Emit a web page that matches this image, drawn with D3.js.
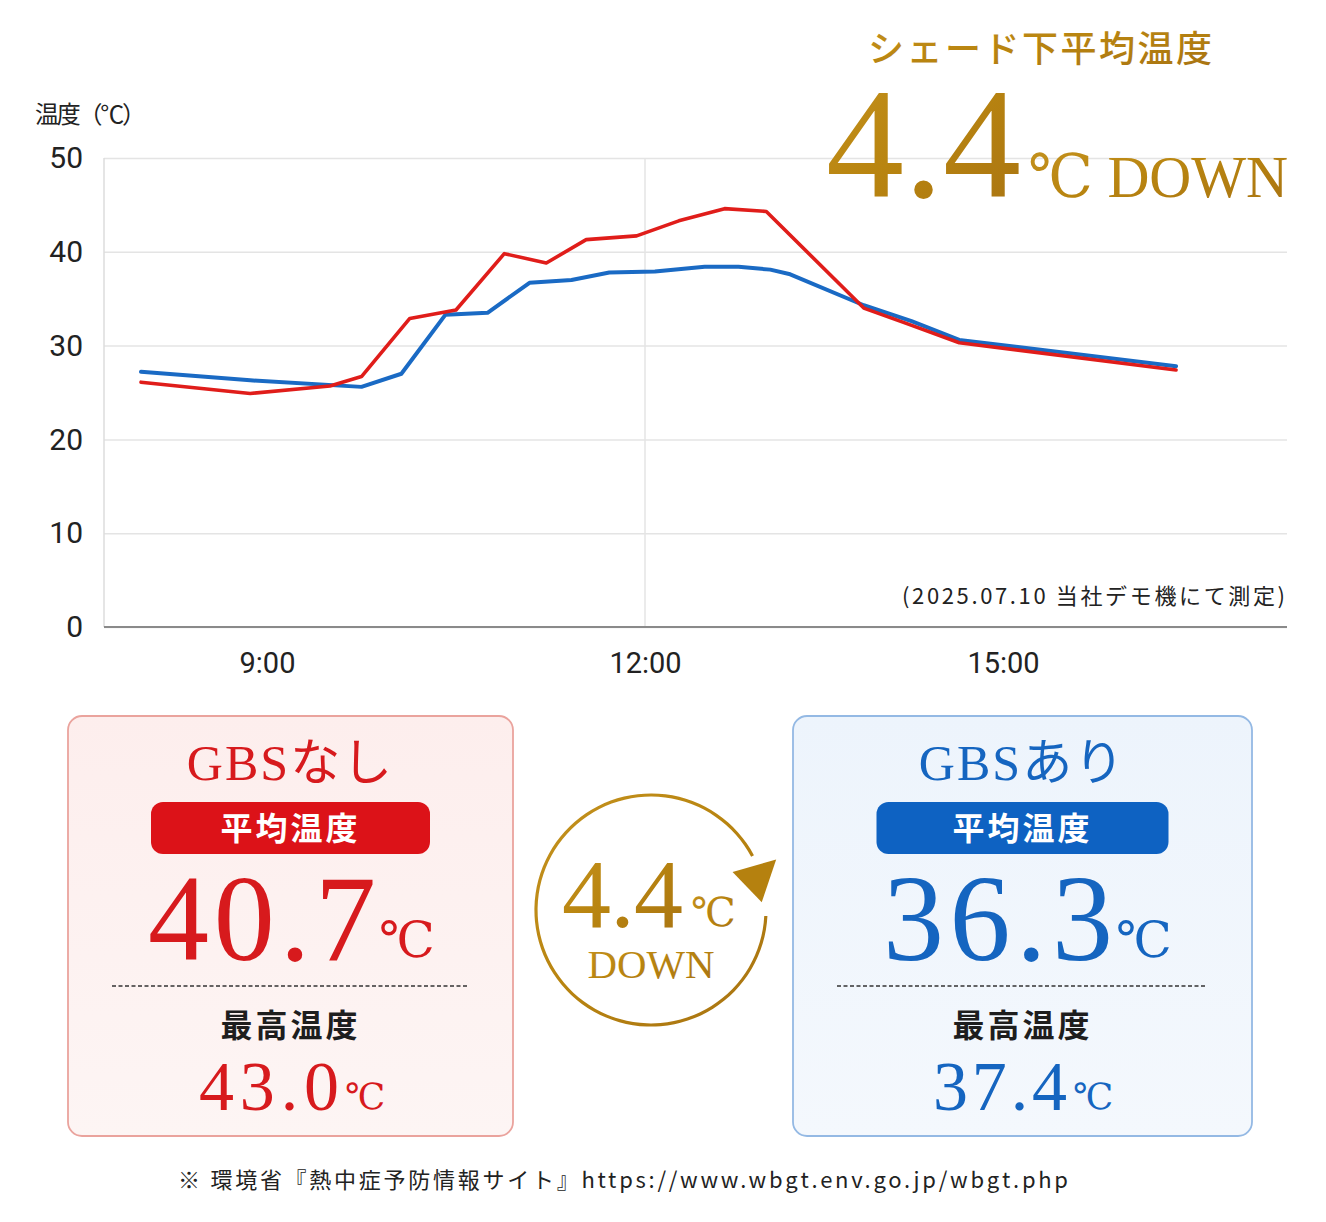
<!DOCTYPE html>
<html>
<head>
<meta charset="utf-8">
<script src="https://cdn.jsdelivr.net/npm/d3@7/dist/d3.min.js"></script>
<style>
  body { margin: 0; background: #fff; }
  svg text { font-family: Roboto, "Noto Sans CJK JP", sans-serif; }
</style>
</head>
<body>
<script>
// measured series (time of day, °C)
var redTimes   = ["8:00","8:52","9:30","9:45","10:08","10:30","10:53","11:13","11:32","11:56","12:17","12:40","13:01","13:50","14:11","14:38","16:27"];
var redValues  = [26.1, 24.9, 25.7, 26.7, 32.9, 33.8, 39.8, 38.8, 41.3, 41.7, 43.3, 44.6, 44.3, 34.0, 32.4, 30.3, 27.4];
var blueTimes  = ["8:00","8:52","9:45","10:04","10:25","10:45","11:05","11:25","11:43","12:05","12:30","12:47","13:03","13:13","13:50","14:14","14:38","16:27"];
var blueValues = [27.2, 26.3, 25.6, 27.0, 33.3, 33.5, 36.7, 37.0, 37.8, 37.9, 38.4, 38.4, 38.1, 37.6, 34.3, 32.6, 30.6, 27.8];

var yTicks = [0, 10, 20, 30, 40, 50];
var xTicks = ["9:00", "12:00", "15:00"];

var summary = [
  { name: "GBSなし", avg: "40.7", max: "43.0", key: "red" },
  { name: "GBSあり", avg: "36.3", max: "37.4", key: "blue" }
];
var diffValue = "4.4";

var SERIF = '"Liberation Serif", "DejaVu Serif", "Noto Sans CJK JP", serif';
var JP = '"Noto Sans CJK JP", sans-serif';

function toHours(s) {
  var p = s.split(":");
  return +p[0] + (+p[1]) / 60;
}

var W = 1326, H = 1222;
var svg = d3.select("body").append("svg")
  .attr("width", W).attr("height", H);

var defs = svg.append("defs");
var gold = defs.append("linearGradient").attr("id", "gold")
  .attr("x1", "0").attr("y1", "0").attr("x2", "1").attr("y2", "1");
gold.append("stop").attr("offset", "0%").attr("stop-color", "#c4921f");
gold.append("stop").attr("offset", "45%").attr("stop-color", "#b98510");
gold.append("stop").attr("offset", "100%").attr("stop-color", "#a87312");

var pinkBg = defs.append("linearGradient").attr("id", "pinkBg")
  .attr("x1", "0").attr("y1", "0").attr("x2", "0").attr("y2", "1");
pinkBg.append("stop").attr("offset", "0%").attr("stop-color", "#fdeeed");
pinkBg.append("stop").attr("offset", "100%").attr("stop-color", "#fdf5f4");
var blueBg = defs.append("linearGradient").attr("id", "blueBg")
  .attr("x1", "0").attr("y1", "0").attr("x2", "0").attr("y2", "1");
blueBg.append("stop").attr("offset", "0%").attr("stop-color", "#edf4fc");
blueBg.append("stop").attr("offset", "100%").attr("stop-color", "#f4f8fd");

// ---- chart ----
var margin = { left: 104, top: 158, right: 39, bottom: 595 };
var width = W - margin.left - margin.right;
var height = H - margin.top - margin.bottom;

// tick spacing on the original axis is not even, so the hour scale is piecewise
var xScale = d3.scaleLinear()
  .domain(xTicks.map(toHours))
  .range([163, 541, 899]);
var yScale = d3.scaleLinear().domain([0, 50]).range([height, 0]);

var g = svg.append("g")
  .attr("transform", "translate(" + margin.left + "," + margin.top + ")");

var yGrid = d3.axisLeft(yScale).tickValues(yTicks).tickSize(-width).tickFormat("");
g.append("g").attr("class", "y grid").call(yGrid)
  .call(function(s) {
    s.select(".domain").remove();
    s.selectAll("line").attr("stroke", "#e4e4e4").attr("stroke-width", 1.5);
  });

g.append("line")
  .attr("x1", xScale(12)).attr("x2", xScale(12))
  .attr("y1", 0).attr("y2", height)
  .attr("stroke", "#e4e4e4").attr("stroke-width", 1.5);

g.append("line")
  .attr("x1", 0).attr("x2", 0).attr("y1", 0).attr("y2", height)
  .attr("stroke", "#dcdcdc").attr("stroke-width", 1.5);

var yAxis = d3.axisLeft(yScale).tickValues(yTicks).tickSize(0).tickPadding(21);
g.append("g").attr("class", "y axis").call(yAxis)
  .call(function(s) {
    s.select(".domain").remove();
    s.selectAll("text").attr("font-size", 30).attr("fill", "#222")
      .style("font-family", "Roboto, sans-serif");
  });

var xAxis = d3.axisBottom(xScale)
  .tickValues(xTicks.map(toHours))
  .tickFormat(function(d, i) { return xTicks[i]; })
  .tickSize(0).tickPadding(25);
g.append("g").attr("class", "x axis")
  .attr("transform", "translate(0," + height + ")")
  .call(xAxis)
  .call(function(s) {
    s.select(".domain").remove();
    s.selectAll("text").attr("font-size", 29).attr("fill", "#222")
      .style("font-family", "Roboto, sans-serif");
  });

g.append("line")
  .attr("x1", 0).attr("x2", width).attr("y1", height).attr("y2", height)
  .attr("stroke", "#8a8a8a").attr("stroke-width", 2);

var line = d3.line()
  .x(function(d) { return xScale(d.t); })
  .y(function(d) { return yScale(d.v); });

function series(times, values) {
  return times.map(function(t, i) { return { t: toHours(t), v: values[i] }; });
}

g.append("path").datum(series(blueTimes, blueValues))
  .attr("fill", "none").attr("stroke", "#1a6ac4").attr("stroke-width", 4)
  .attr("stroke-linejoin", "round").attr("stroke-linecap", "round")
  .attr("d", line);
g.append("path").datum(series(redTimes, redValues))
  .attr("fill", "none").attr("stroke", "#e01d1a").attr("stroke-width", 3.6)
  .attr("stroke-linejoin", "round").attr("stroke-linecap", "round")
  .attr("d", line);

svg.append("text")
  .attr("x", 35).attr("y", 123)
  .attr("font-size", 24).attr("fill", "#222")
  .attr("textLength", 111).attr("lengthAdjust", "spacing")
  .style("font-family", JP)
  .text("温度（℃）");

svg.append("text")
  .attr("x", 902).attr("y", 604)
  .attr("font-size", 22).attr("fill", "#222")
  .attr("textLength", 383).attr("lengthAdjust", "spacing")
  .style("font-family", JP)
  .text("(2025.07.10 当社デモ機にて測定)");

// ---- headline ----
svg.append("text")
  .attr("x", 868).attr("y", 62)
  .attr("font-size", 36).attr("font-weight", 500)
  .attr("textLength", 344).attr("lengthAdjust", "spacing")
  .attr("fill", "url(#gold)")
  .style("font-family", JP)
  .text("シェード下平均温度");

svg.append("text")
  .attr("x", 826).attr("y", 197)
  .attr("font-size", 156)
  .attr("fill", "url(#gold)")
  .style("font-family", SERIF)
  .text(diffValue);

svg.append("text")
  .attr("x", 1028).attr("y", 197)
  .attr("font-size", 60)
  .attr("fill", "url(#gold)")
  .style("font-family", SERIF)
  .attr("textLength", 260).attr("lengthAdjust", "spacingAndGlyphs")
  .text("℃ DOWN");

// ---- summary boxes ----
var colors = {
  red:  { text: "#d71a1d", pill: "#dc1218", bg: "url(#pinkBg)", border: "#eaa39d" },
  blue: { text: "#1565c0", pill: "#0e62c2", bg: "url(#blueBg)", border: "#94b9e4" }
};
var boxes = [
  { x: 68, w: 445, numStart: 148, numLen: 228, maxStart: 199, maxLen: 140 },
  { x: 793, w: 459, numStart: 883, numLen: 230, maxStart: 933, maxLen: 134 }
];

summary.forEach(function(d, i) {
  var b = boxes[i], c = colors[d.key];
  var cx = b.x + b.w / 2;
  var box = svg.append("g");

  box.append("rect")
    .attr("x", b.x).attr("y", 716).attr("width", b.w).attr("height", 420)
    .attr("rx", 14)
    .attr("fill", c.bg).attr("stroke", c.border).attr("stroke-width", 1.8);

  box.append("text")
    .attr("x", cx).attr("y", 780)
    .attr("text-anchor", "middle")
    .attr("font-size", 50).attr("letter-spacing", 2)
    .attr("fill", c.text)
    .style("font-family", SERIF)
    .text(d.name);

  var pw = (i === 0 ? 279 : 292);
  box.append("rect")
    .attr("x", cx - pw / 2).attr("y", 802).attr("width", pw).attr("height", 52)
    .attr("rx", 12).attr("fill", c.pill);
  box.append("text")
    .attr("x", cx).attr("y", 840)
    .attr("text-anchor", "middle")
    .attr("font-size", 32).attr("font-weight", 700).attr("letter-spacing", 3)
    .attr("fill", "#fff")
    .style("font-family", JP)
    .text("平均温度");

  box.append("text")
    .attr("x", b.numStart).attr("y", 960)
    .attr("font-size", 122)
    .attr("fill", c.text)
    .attr("textLength", b.numLen).attr("lengthAdjust", "spacing")
    .style("font-family", SERIF)
    .text(d.avg);
  box.append("text")
    .attr("x", b.numStart + b.numLen + 3).attr("y", 957)
    .attr("font-size", 50).attr("font-weight", 300)
    .attr("fill", c.text)
    .style("font-family", SERIF)
    .text("℃");

  box.append("line")
    .attr("x1", b.x + 44).attr("x2", b.x + b.w - 45)
    .attr("y1", 986).attr("y2", 986)
    .attr("stroke", "#333").attr("stroke-width", 1.6)
    .attr("stroke-dasharray", "4,2.5");

  box.append("text")
    .attr("x", cx).attr("y", 1037)
    .attr("text-anchor", "middle")
    .attr("font-size", 32).attr("font-weight", 700).attr("letter-spacing", 3)
    .attr("fill", "#1e1e1e")
    .style("font-family", JP)
    .text("最高温度");

  box.append("text")
    .attr("x", b.maxStart).attr("y", 1110)
    .attr("font-size", 70)
    .attr("fill", c.text)
    .attr("textLength", b.maxLen).attr("lengthAdjust", "spacing")
    .style("font-family", SERIF)
    .text(d.max);
  box.append("text")
    .attr("x", b.maxStart + b.maxLen + 6).attr("y", 1109)
    .attr("font-size", 36).attr("font-weight", 300)
    .attr("fill", c.text)
    .style("font-family", SERIF)
    .text("℃");
});

// ---- centre badge ----
var badge = svg.append("g").attr("transform", "translate(651,910)");
var R = 115;
var deg = Math.PI / 180;
badge.append("path")
  .attr("d", d3.arc().innerRadius(R - 1.6).outerRadius(R + 1.6)
    .startAngle(93 * deg).endAngle(422 * deg)())
  .attr("fill", "url(#gold)");

function polar(a, r) { return [r * Math.sin(a * deg), -r * Math.cos(a * deg)]; }
badge.append("path")
  .attr("d", "M" + polar(65, 90) + "L" + polar(68, 135) + "L" + polar(86, 111) + "Z")
  .attr("fill", "#b5810f");

badge.append("text")
  .attr("x", -89).attr("y", 17)
  .attr("font-size", 98)
  .attr("fill", "url(#gold)")
  .attr("textLength", 121).attr("lengthAdjust", "spacing")
  .style("font-family", SERIF)
  .text(diffValue);
badge.append("text")
  .attr("x", 40).attr("y", 16)
  .attr("font-size", 40).attr("font-weight", 300)
  .attr("fill", "url(#gold)")
  .style("font-family", SERIF)
  .text("℃");
badge.append("text")
  .attr("x", 0).attr("y", 68)
  .attr("text-anchor", "middle")
  .attr("font-size", 41)
  .attr("fill", "url(#gold)")
  .attr("textLength", 127).attr("lengthAdjust", "spacingAndGlyphs")
  .style("font-family", SERIF)
  .text("DOWN");

// ---- footnote ----
svg.append("text")
  .attr("x", 178).attr("y", 1188)
  .attr("font-size", 22).attr("fill", "#222")
  .attr("textLength", 890).attr("lengthAdjust", "spacing")
  .style("font-family", JP)
  .text("※ 環境省『熱中症予防情報サイト』https://www.wbgt.env.go.jp/wbgt.php");
</script>
</body>
</html>
